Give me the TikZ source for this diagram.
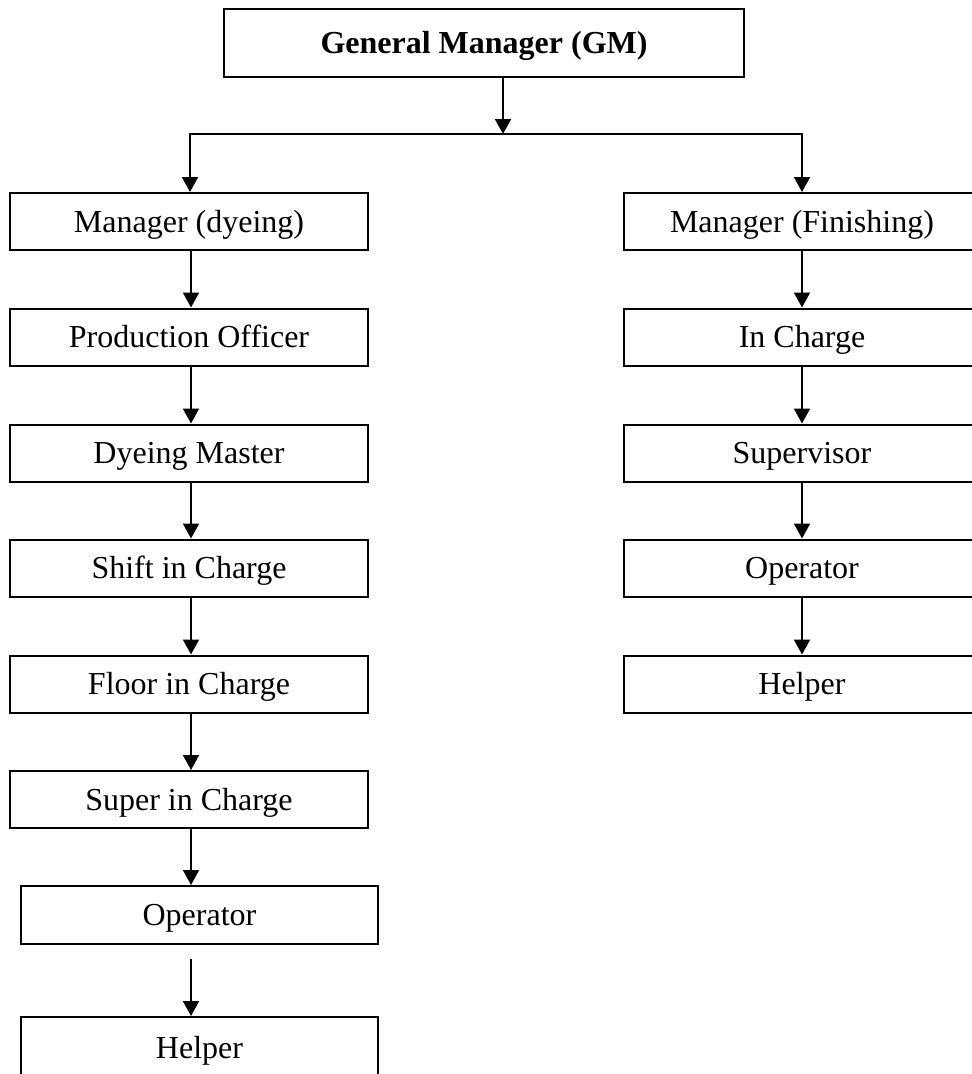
\documentclass[tikz,border=0pt]{standalone}
\usepackage{fontspec}
\setmainfont{Liberation Serif}
\usetikzlibrary{arrows.meta}
\begin{document}
\begin{tikzpicture}[x=1pt,y=1pt,
  box/.style={draw,line width=2pt,rectangle,inner sep=0pt,
    font=\fontsize{32}{38}\selectfont,text height=21pt,text depth=0pt},
  colbox/.style={box,minimum width=358pt,minimum height=57pt},
  rbox/.style={box,minimum width=356pt,minimum height=57pt},
  arr/.style={line width=2pt,-{Triangle[width=16pt,length=15pt]}}]
\useasboundingbox (0,0) rectangle (972,-1074);

% top of the chart
\node[box,minimum width=520pt,minimum height=68pt] (gm) at (484,-43)
  {\textbf{General Manager (GM}\textbf{)}};
\coordinate (bus) at (503,-134);
\coordinate (xl) at (190,-134);
\coordinate (xr) at (802,-134);
\coordinate (cl) at (191,0);

% dyeing column
\node[colbox] (mdy) at (189,-221.5) {Manager (dyeing)};
\node[colbox] (po)  at (189,-337)   {Production Officer};
\node[colbox] (dm)  at (189,-453)   {Dyeing Master};
\node[colbox] (sic) at (189,-568)   {Shift in Charge};
\node[colbox] (fic) at (189,-684)   {Floor in Charge};
\node[colbox] (spc) at (189,-799.5) {Super in Charge};
\node[box,minimum width=357pt,minimum height=58pt] (opl) at (199.5,-915) {Operator};
\node[box,minimum width=357pt,minimum height=62pt] (hpl) at (199.5,-1048) {Helper};
\coordinate (opgap) at (191,-959);

% finishing column
\node[rbox] (mfi) at (802,-221.5) {Manager (Finishing)};
\node[rbox] (ich) at (802,-337)   {In Charge};
\node[rbox] (sup) at (802,-453)   {Supervisor};
\node[rbox] (opr) at (802,-568)   {Operator};
\node[rbox] (hpr) at (802,-684)   {Helper};

% connectors
\draw[arr] (gm.south -| bus) -- (bus);
\draw[arr,line join=miter] (bus) -- (xl) -- (mdy.north -| xl);
\draw[arr,line join=miter] (bus) -- (xr) -- (mfi.north -| xr);

\draw[arr] (mdy.south -| cl) -- (po.north -| cl);
\draw[arr] (po.south -| cl)  -- (dm.north -| cl);
\draw[arr] (dm.south -| cl)  -- (sic.north -| cl);
\draw[arr] (sic.south -| cl) -- (fic.north -| cl);
\draw[arr] (fic.south -| cl) -- (spc.north -| cl);
\draw[arr] (spc.south -| cl) -- (opl.north -| cl);
\draw[arr] (opgap) -- (hpl.north -| opgap);

\draw[arr] (mfi.south -| xr) -- (ich.north -| xr);
\draw[arr] (ich.south -| xr) -- (sup.north -| xr);
\draw[arr] (sup.south -| xr) -- (opr.north -| xr);
\draw[arr] (opr.south -| xr) -- (hpr.north -| xr);
\end{tikzpicture}
\end{document}
